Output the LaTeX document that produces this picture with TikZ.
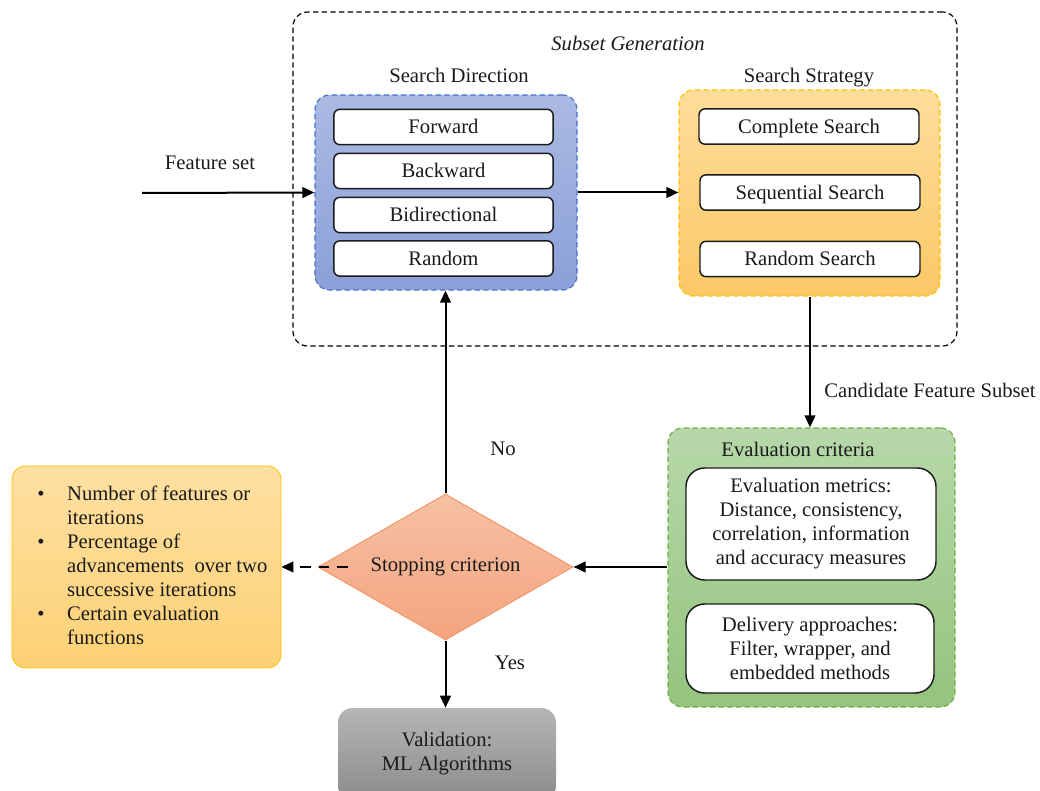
\documentclass[tikz,border=0pt]{standalone}
\usepackage{fontspec}
\setmainfont{Liberation Serif}
\newfontfamily\timesface{Liberation Serif}
\usetikzlibrary{arrows.meta,shapes.geometric}
\definecolor{ink}{HTML}{1A1A1A}
\definecolor{bluetop}{HTML}{ABBAE3}
\definecolor{bluebot}{HTML}{8BA0D8}
\definecolor{blueedge}{HTML}{4472C4}
\definecolor{yeltop}{HTML}{FEDD9B}
\definecolor{yelbot}{HTML}{FBC866}
\definecolor{yeledge}{HTML}{FFC000}
\definecolor{grntop}{HTML}{B7D8AA}
\definecolor{grnbot}{HTML}{94C47D}
\definecolor{grnedge}{HTML}{70AD47}
\definecolor{dmdtop}{HTML}{F6C0A4}
\definecolor{dmdbot}{HTML}{F4A47F}
\definecolor{dmdedge}{HTML}{F19A6B}
\definecolor{grytop}{HTML}{B5B5B5}
\definecolor{grybot}{HTML}{8C8C8C}
\definecolor{crittop}{HTML}{FEE0A2}
\definecolor{critbot}{HTML}{FDD175}
\tikzset{
  txt/.style={font=\timesface\fontsize{15.5}{18}\selectfont, text=ink},
  panel/.style={rounded corners=11pt, dashed, dash pattern=on 4pt off 2.5pt, line width=0.9pt},
  option/.style={txt, draw=ink, fill=white, line width=1.1pt, rounded corners=4.5pt,
    minimum width=164.5pt, minimum height=26.5pt, inner sep=0pt,
    text height=13.8pt, text depth=3.5pt},
  detail/.style={txt, draw=ink, fill=white, line width=1.1pt, rounded corners=14pt,
    align=center, inner sep=0pt},
  link/.style={draw=black, line width=1.5pt, -{Triangle[length=9pt,width=8pt]}},
}
\begin{document}
\begin{tikzpicture}[x=0.75pt,y=-0.75pt]
\useasboundingbox (0,0) rectangle (1040,791);
\clip (0,0) rectangle (1040,791);

% subset generation frame
\node[panel, draw=black, minimum width=498pt, minimum height=250.5pt] (subgen) at (625,179) {};
\node[txt, font=\timesface\fontsize{15.5}{18}\selectfont\itshape] (subgenlbl) at (628,43) {Subset Generation};

% search direction
\node[txt] (dirlbl) at (459,75) {Search Direction};
\node[panel, draw=blueedge, top color=bluetop, bottom color=bluebot,
      minimum width=196.5pt, minimum height=146.25pt] (dir) at (446,192.5) {};
\node[option] (fwd) at (443.5,127) {Forward};
\node[option] (bwd) at (443.5,171) {Backward};
\node[option] (bid) at (443.5,215) {Bidirectional};
\node[option] (rnd) at (443.5,258.5) {Random};

% search strategy
\node[txt] (stratlbl) at (809,78) {Search Strategy};
\node[panel, draw=yeledge, top color=yeltop, bottom color=yelbot,
      minimum width=195.75pt, minimum height=154.5pt] (strat) at (809.5,193) {};
\node[option, minimum width=165pt] (comp) at (809,126.5) {Complete Search};
\node[option, minimum width=165pt] (seq) at (810,192.5) {Sequential Search};
\node[option, minimum width=165pt] (rsrch) at (810,259) {Random Search};

% evaluation criteria
\node[panel, draw=grnedge, top color=grntop, bottom color=grnbot,
      minimum width=215.25pt, minimum height=209.25pt] (eval) at (811.5,567.5) {};
\node[txt] (evallbl) at (798,449) {Evaluation criteria};
\node[detail, minimum width=187.5pt, minimum height=84pt] (metrics) at (811,524)
  {Evaluation metrics:\\ Distance, consistency,\\ correlation, information\\ and accuracy measures};
\node[detail, minimum width=186pt, minimum height=66.75pt] (approach) at (810,648.5)
  {Delivery approaches:\\ Filter, wrapper, and\\ embedded methods};

% stopping criterion
\node[txt, shape=diamond, aspect=1.75, draw=dmdedge, line width=0.8pt,
      top color=dmdtop, bottom color=dmdbot, inner sep=0pt,
      minimum width=191.25pt, minimum height=109.5pt] (stop) at (445.5,567) {Stopping criterion};

% validation
\node[txt, rounded corners=11pt, top color=grytop, bottom color=grybot, align=center,
      minimum width=163.5pt, minimum height=69pt, inner sep=0pt] (valid) at (447,754)
  {Validation:\\ ML Algorithms};

% stopping conditions
\node[rounded corners=10pt, draw=yeledge, line width=0.6pt, top color=crittop, bottom color=critbot,
      minimum width=201.75pt, minimum height=151.5pt] (conds) at (146.5,567) {};
\node[txt, anchor=west, inner sep=0pt] (condtxt) at (37,568) {%
  \begin{tabular}{@{}l@{\hspace{17pt}}l@{}}
  \textbullet & Number of features or\\
              & iterations\\
  \textbullet & Percentage of\\
              & advancements \ over two\\
              & successive iterations\\
  \textbullet & Certain evaluation\\
              & functions
  \end{tabular}};

% connectors
\coordinate (fsin) at (142,193);
\draw[link] (fsin) -- (dir.west);
\node[txt] (fslbl) at (210,163) {Feature set};
\draw[link] (dir.east) -- (strat.west |- dir.east);
\draw[link] (strat.south -| eval.north) ++(-1.5,0) coordinate (cfs) -- (cfs |- eval.north);
\node[txt] (cfslbl) at (930,390) {Candidate Feature Subset};
\draw[link] (eval.west |- stop.east) -- (stop.east);
\draw[link] (stop.north) -- (stop.north |- dir.south);
\node[txt] (nolbl) at (503,449) {No};
\draw[link] (stop.south) -- (stop.south |- valid.north);
\node[txt] (yeslbl) at (510,663) {Yes};
\coordinate (dashin) at (348,567);
\draw[link, dash pattern=on 8pt off 6pt] (dashin) -- (conds.east);
\end{tikzpicture}
\end{document}
